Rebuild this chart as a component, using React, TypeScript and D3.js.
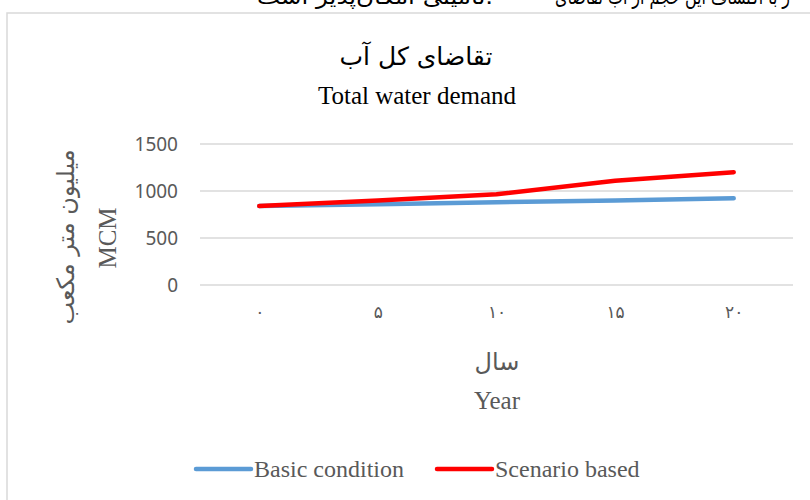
import React, { useEffect, useRef } from 'react';
import * as d3 from 'd3';

const years = [0, 5, 10, 15, 20];
const yearLabels = ['۰', '۵', '۱۰', '۱۵', '۲۰'];
const basicCondition = [840, 860, 880, 900, 922];
const scenarioBased = [840, 900, 965, 1108, 1200];
const yTicks = [0, 500, 1000, 1500];

const seriesNames = ['Basic condition', 'Scenario based'];
const seriesColors = ['#5b9bd5', '#ff0000'];

const SERIF = '"Liberation Serif", "Times New Roman", "DejaVu Sans", serif';
const PERSIAN = '"DejaVu Sans", "Noto Sans", sans-serif';

const App = () => {
    const ref = useRef<SVGSVGElement | null>(null);

    useEffect(() => {
        if (!ref.current) return;
        const svg = d3.select(ref.current);
        svg.selectAll('*').remove();

        const W = 810, H = 500;
        const plot = { left: 200, right: 793, top: 144, bottom: 285 };

        svg.append('rect').attr('width', W).attr('height', H).attr('fill', '#fff');

        // cut-off line of the surrounding document text (clipped in the source too)
        svg.append('text')
            .attr('x', 555).attr('y', 4)
            .attr('textLength', 235).attr('lengthAdjust', 'spacingAndGlyphs')
            .attr('font-family', PERSIAN).attr('font-size', 21)
            .attr('fill', '#000')
            .text('ر با اکتشاف این حجم از آب تقاضای');
        svg.append('text')
            .attr('x', 257).attr('y', 4)
            .attr('textLength', 236).attr('lengthAdjust', 'spacingAndGlyphs')
            .attr('font-family', PERSIAN).attr('font-size', 21)
            .attr('fill', '#000')
            .text('تأمینی امکان‌پذیر است.');

        // chart area border
        svg.append('rect')
            .attr('x', 7).attr('y', 13)
            .attr('width', 830).attr('height', 520)
            .attr('fill', '#fff')
            .attr('stroke', '#d9d9d9').attr('stroke-width', 1.5);

        const x = d3.scalePoint<number>()
            .domain(years)
            .range([plot.left, plot.right])
            .padding(0.5);

        const y = d3.scaleLinear()
            .domain([0, 1500])
            .range([plot.bottom, plot.top]);

        // titles
        svg.append('text')
            .attr('x', 416).attr('y', 65)
            .attr('text-anchor', 'middle')
            .attr('font-family', PERSIAN).attr('font-size', 25)
            .attr('fill', '#000')
            .text('تقاضای کل آب');
        svg.append('text')
            .attr('x', 417).attr('y', 104)
            .attr('text-anchor', 'middle')
            .attr('font-family', SERIF).attr('font-size', 25)
            .attr('fill', '#000')
            .text('Total water demand');

        // gridlines
        svg.append('g')
            .selectAll('line')
            .data(yTicks)
            .enter().append('line')
            .attr('x1', plot.left).attr('x2', plot.right)
            .attr('y1', d => y(d)).attr('y2', d => y(d))
            .attr('stroke', '#d9d9d9').attr('stroke-width', 1.5);

        // y axis labels
        const yAxis = svg.append('g')
            .attr('transform', `translate(${plot.left - 22},0)`)
            .call(d3.axisLeft(y).tickValues(yTicks).tickSize(0).tickPadding(0)
                .tickFormat(d3.format('d')));
        yAxis.select('.domain').remove();
        yAxis.selectAll('text')
            .attr('font-family', '"Noto Sans", "Open Sans", sans-serif')
            .attr('font-size', 19)
            .attr('fill', '#595959');

        // x axis labels
        const xAxis = svg.append('g')
            .attr('transform', `translate(0,${plot.bottom})`)
            .call(d3.axisBottom(x).tickSize(0).tickPadding(0)
                .tickFormat((d, i) => yearLabels[i]));
        xAxis.select('.domain').remove();
        xAxis.selectAll('text')
            .attr('y', 33)
            .attr('dy', 0)
            .attr('font-family', SERIF)
            .attr('font-size', 17)
            .attr('fill', '#595959');

        // axis titles
        svg.append('text')
            .attr('x', 497).attr('y', 370)
            .attr('text-anchor', 'middle')
            .attr('font-family', PERSIAN).attr('font-size', 24)
            .attr('fill', '#595959')
            .text('سال');
        svg.append('text')
            .attr('x', 497).attr('y', 409)
            .attr('text-anchor', 'middle')
            .attr('font-family', SERIF).attr('font-size', 25)
            .attr('fill', '#595959')
            .text('Year');

        svg.append('text')
            .attr('transform', 'translate(74,237) rotate(-90)')
            .attr('text-anchor', 'middle')
            .attr('font-family', PERSIAN).attr('font-size', 24)
            .attr('fill', '#595959')
            .text('میلیون متر مکعب');
        svg.append('text')
            .attr('transform', 'translate(116,238) rotate(-90)')
            .attr('text-anchor', 'middle')
            .attr('font-family', SERIF).attr('font-size', 25)
            .attr('fill', '#595959')
            .text('MCM');

        // lines
        const line = d3.line<number>()
            .x((d, i) => x(years[i]) as number)
            .y(d => y(d));

        [basicCondition, scenarioBased].forEach((values, i) => {
            svg.append('path')
                .datum(values)
                .attr('fill', 'none')
                .attr('stroke', seriesColors[i])
                .attr('stroke-width', 4.5)
                .attr('stroke-linecap', 'round')
                .attr('stroke-linejoin', 'round')
                .attr('d', line);
        });

        // legend
        const legendX = [196, 437];
        const legend = svg.append('g')
            .selectAll('g')
            .data(seriesNames)
            .enter().append('g')
            .attr('transform', (d, i) => `translate(${legendX[i]},469)`);

        legend.append('line')
            .attr('x1', 0).attr('x2', 55)
            .attr('stroke', (d, i) => seriesColors[i])
            .attr('stroke-width', 4.5)
            .attr('stroke-linecap', 'round');

        legend.append('text')
            .attr('x', 58).attr('y', 8)
            .attr('font-family', SERIF).attr('font-size', 24)
            .attr('fill', '#595959')
            .text(d => d);
    }, []);

    return (
        <svg
            ref={ref}
            width={810}
            height={500}
            style={{ position: 'absolute', left: 0, top: 0 }}
        />
    );
};

export default App;
